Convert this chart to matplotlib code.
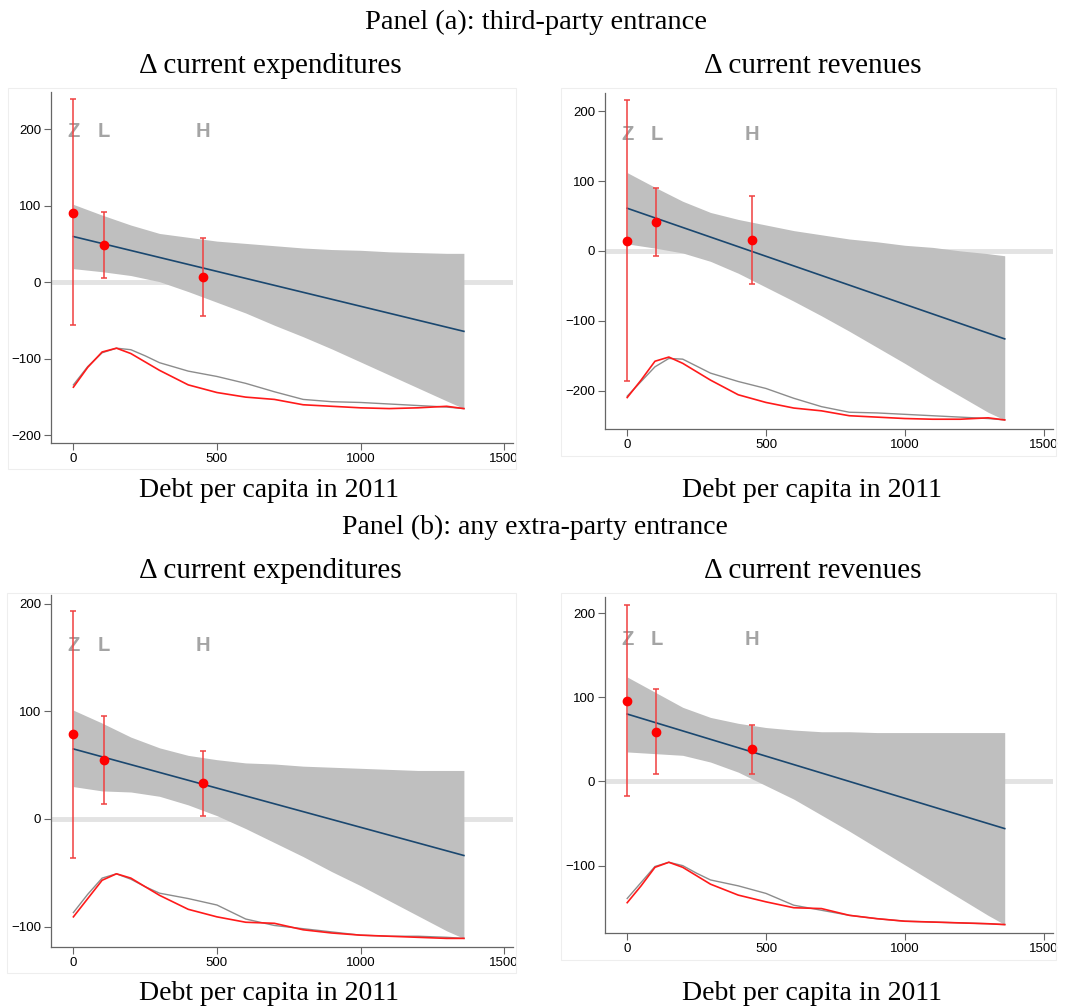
import numpy as np
import matplotlib
matplotlib.use("Agg")
import matplotlib.pyplot as plt
from matplotlib.patches import Rectangle
from matplotlib.transforms import Bbox, TransformedBbox

W, H = 1073, 1008

# x positions of the three groups (zero, low, high debt)
group_x = [0, 105, 450]
group_lab = ["Z", "L", "H"]

# x grid where the confidence band / densities were read
band_x = [0, 100, 200, 300, 400, 500, 600, 700, 800, 900, 1000, 1100, 1200, 1300, 1360]
dens_x = [0, 50, 100, 150, 200, 250, 300, 400, 500, 600, 700, 800, 900, 1000, 1100, 1200, 1300, 1360]
fit_x = [0, 1360]

# Panel (a), current expenditures
a_exp_upper = [102, 88, 75, 64, 59, 54, 51, 48, 45, 43, 42, 40, 39, 38, 38]
a_exp_lower = [18, 14, 9, 1, -12, -26, -40, -56, -71, -87, -104, -121, -138, -155, -165]
a_exp_fit = [60, -64]
a_exp_est = [91, 49, 7]
a_exp_lo = [-56, 6, -44]
a_exp_hi = [240, 92, 58]
a_exp_dens_gray = [-134, -110, -92, -86, -88, -96, -105, -116, -123, -132, -143, -153, -156, -157, -159, -161, -163, -165]
a_exp_dens_red = [-137, -111, -91, -86, -93, -104, -115, -134, -144, -150, -153, -160, -162, -164, -165, -164, -162, -165]

# Panel (a), current revenues
a_rev_upper = [112, 91, 71, 55, 45, 37, 29, 23, 17, 13, 8, 5, 0, -4, -7]
a_rev_lower = [10, 4, -3, -15, -32, -52, -72, -93, -115, -138, -161, -185, -208, -231, -242]
a_rev_fit = [61, -126]
a_rev_est = [14, 41, 15]
a_rev_lo = [-186, -8, -48]
a_rev_hi = [216, 90, 79]
a_rev_dens_gray = [-208, -187, -166, -154, -155, -165, -175, -187, -197, -211, -223, -231, -232, -234, -236, -238, -240, -242]
a_rev_dens_red = [-210, -185, -158, -152, -161, -173, -185, -206, -217, -225, -229, -236, -238, -240, -241, -241, -239, -242]

# Panel (b), current expenditures
b_exp_upper = [101, 89, 76, 66, 59, 55, 52, 51, 49, 48, 47, 46, 45, 45, 45]
b_exp_lower = [30, 26, 25, 21, 13, 3, -9, -22, -35, -49, -62, -76, -90, -104, -111]
b_exp_fit = [65, -34]
b_exp_est = [79, 55, 33]
b_exp_lo = [-36, 14, 3]
b_exp_hi = [193, 96, 63]
b_exp_dens_gray = [-87, -70, -55, -51, -56, -63, -69, -74, -80, -93, -99, -102, -105, -108, -109, -109, -110, -111]
b_exp_dens_red = [-91, -74, -57, -51, -55, -63, -71, -84, -91, -96, -97, -103, -106, -108, -109, -110, -111, -111]

# Panel (b), current revenues
b_rev_upper = [124, 106, 88, 76, 69, 64, 61, 59, 59, 58, 58, 58, 58, 58, 58]
b_rev_lower = [35, 33, 31, 23, 11, -5, -21, -40, -59, -79, -99, -119, -139, -159, -170]
b_rev_fit = [80, -56]
b_rev_est = [96, 59, 38]
b_rev_lo = [-17, 9, 9]
b_rev_hi = [209, 110, 67]
b_rev_dens_gray = [-139, -120, -101, -96, -100, -109, -117, -124, -133, -147, -153, -159, -163, -166, -167, -168, -169, -170]
b_rev_dens_red = [-144, -124, -102, -96, -102, -112, -122, -135, -143, -150, -151, -159, -163, -166, -167, -168, -169, -170]

serif = ["Liberation Serif", "DejaVu Serif"]
sans = ["Liberation Sans", "DejaVu Sans"]

fig = plt.figure(figsize=(W / 100, H / 100), dpi=100)
fig.patch.set_facecolor("white")


def px_axes(left, top, right, bottom):
    return fig.add_axes([left / W, 1 - bottom / H, (right - left) / W, (bottom - top) / H])


def frame(left, top, right, bottom):
    fig.add_artist(Rectangle((left / W, 1 - bottom / H), (right - left) / W, (bottom - top) / H,
                             transform=fig.transFigure, fill=False, edgecolor="#eeeeee", lw=0.8))


def draw_panel(ax, xlim, ylim, yticks, upper, lower, fit, est, lo, hi, dgray, dred, lab_y, clip_right=None):
    ax.set_xlim(*xlim)
    ax.set_ylim(*ylim)
    ax.axhline(0, color="#e3e3e3", lw=3.5, zorder=1)
    ax.fill_between(band_x, lower, upper, color="#bfbfbf", lw=0, zorder=2)
    ax.plot(fit_x, fit, color="#1a476f", lw=1.2, zorder=3)
    ax.plot(dens_x, dgray, color="#8c8c8c", lw=1.0, zorder=3)
    ax.plot(dens_x, dred, color="#ff1a1a", lw=1.2, zorder=4)
    for x, t in zip(group_x, group_lab):
        ax.text(x, lab_y, t, color="#a4a4a4", fontsize=14.5, fontweight="bold", family=sans,
                ha="center", va="center", zorder=4)
    err = [np.subtract(est, lo), np.subtract(hi, est)]
    ax.errorbar(group_x, est, yerr=err, fmt="none", ecolor="#f04040", elinewidth=1.1,
                capsize=2.5, capthick=1.1, zorder=5)
    ax.plot(group_x, est, "o", color="#ff0000", ms=6, zorder=6)
    ax.set_xticks([0, 500, 1000, 1500])
    ax.set_yticks(yticks)
    for s in ["top", "right"]:
        ax.spines[s].set_visible(False)
    for s in ["left", "bottom"]:
        ax.spines[s].set_color("#666666")
        ax.spines[s].set_linewidth(0.9)
    ax.tick_params(direction="out", length=5, width=0.8, color="#666666", labelsize=9.5, pad=2)
    for lab in ax.get_xticklabels() + ax.get_yticklabels():
        lab.set_family(sans)
    if clip_right is not None:
        box = TransformedBbox(Bbox([[0, 0], [clip_right / W, 1]]), fig.transFigure)
        for lab in ax.get_xticklabels():
            lab.set_clip_box(box)
            lab.set_clip_on(True)
    ax.set_facecolor("none")


# faint graph-region frames
frame(8, 88, 516, 469)
frame(561, 88, 1056, 456)
frame(7, 593, 516, 973)
frame(561, 593, 1056, 960)

ax1 = px_axes(51, 92, 513, 443)
draw_panel(ax1, (-78, 1531), (-210, 249), [-200, -100, 0, 100, 200],
           a_exp_upper, a_exp_lower, a_exp_fit, a_exp_est, a_exp_lo, a_exp_hi,
           a_exp_dens_gray, a_exp_dens_red, 197, clip_right=516)

ax2 = px_axes(605, 93, 1053, 429)
draw_panel(ax2, (-80, 1534), (-255, 226), [-200, -100, 0, 100, 200],
           a_rev_upper, a_rev_lower, a_rev_fit, a_rev_est, a_rev_lo, a_rev_hi,
           a_rev_dens_gray, a_rev_dens_red, 167)

ax3 = px_axes(51, 595, 513, 947)
draw_panel(ax3, (-78, 1531), (-119, 208), [-100, 0, 100, 200],
           b_exp_upper, b_exp_lower, b_exp_fit, b_exp_est, b_exp_lo, b_exp_hi,
           b_exp_dens_gray, b_exp_dens_red, 161, clip_right=516)

ax4 = px_axes(605, 597, 1053, 933)
draw_panel(ax4, (-80, 1534), (-180, 219), [-100, 0, 100, 200],
           b_rev_upper, b_rev_lower, b_rev_fit, b_rev_est, b_rev_lo, b_rev_hi,
           b_rev_dens_gray, b_rev_dens_red, 169)


def ftext(x, y, s, size):
    # y is the text baseline in pixels from the top
    fig.text(x / W, 1 - y / H, s, ha="center", va="baseline", fontsize=size, family=serif)


ftext(536, 29, "Panel (a): third-party entrance", 20.5)
ftext(270, 73, "Δ current expenditures", 21)
ftext(813, 73, "Δ current revenues", 21)
ftext(269, 497, "Debt per capita in 2011", 20)
ftext(812, 497, "Debt per capita in 2011", 20)
ftext(535, 534, "Panel (b): any extra-party entrance", 20)
ftext(270, 578, "Δ current expenditures", 21)
ftext(813, 578, "Δ current revenues", 21)
ftext(269, 1000, "Debt per capita in 2011", 20)
ftext(812, 1000, "Debt per capita in 2011", 20)

fig.savefig("out.png", dpi=100)
